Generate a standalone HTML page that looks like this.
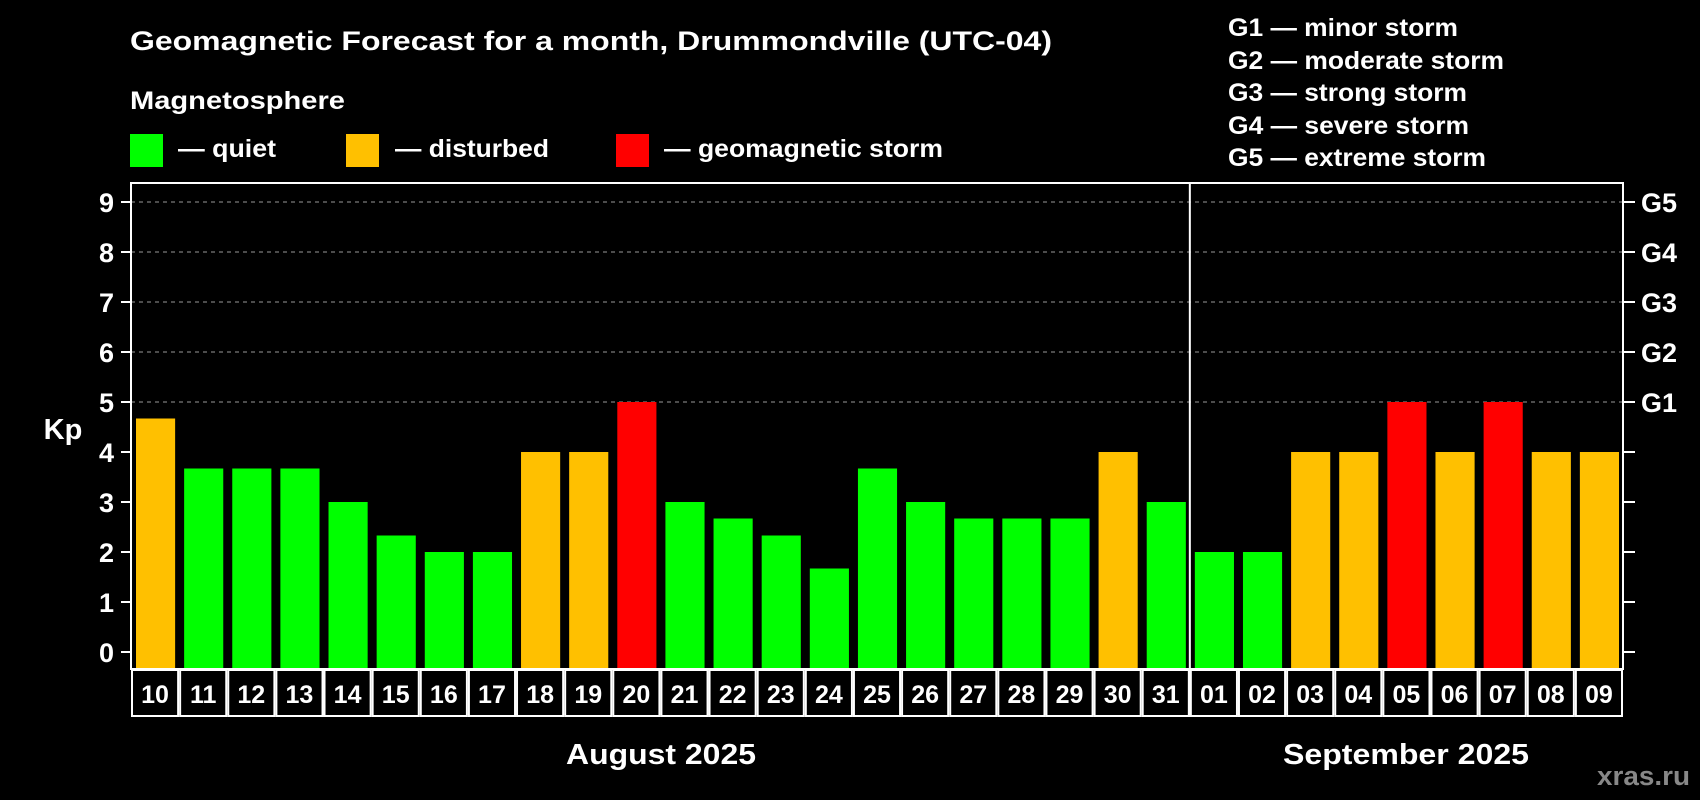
<!DOCTYPE html>
<html><head><meta charset="utf-8"><style>
html,body{margin:0;padding:0;background:#000;}
svg{display:block;font-family:"Liberation Sans",Arial,sans-serif;font-weight:bold;}
</style></head><body>
<svg id="chart" width="1700" height="800" viewBox="0 0 1700 800">
<rect width="1700" height="800" fill="#000"/>
<text x="130" y="50" fill="#fff" font-size="27" textLength="922" lengthAdjust="spacingAndGlyphs">Geomagnetic Forecast for a month, Drummondville (UTC-04)</text>
<text x="130" y="109" fill="#fff" font-size="25" textLength="215" lengthAdjust="spacingAndGlyphs">Magnetosphere</text>
<g><rect x="130" y="134" width="33" height="33" fill="#00ff00"/><text x="178" y="157" fill="#fff" font-size="25" textLength="98" lengthAdjust="spacingAndGlyphs">— quiet</text></g>
<g><rect x="346" y="134" width="33" height="33" fill="#ffc000"/><text x="395" y="157" fill="#fff" font-size="25" textLength="154" lengthAdjust="spacingAndGlyphs">— disturbed</text></g>
<g><rect x="616" y="134" width="33" height="33" fill="#ff0000"/><text x="664" y="157" fill="#fff" font-size="25" textLength="279" lengthAdjust="spacingAndGlyphs">— geomagnetic storm</text></g>
<g font-size="25" fill="#fff">
<text x="1228" y="36" textLength="230" lengthAdjust="spacingAndGlyphs">G1 — minor storm</text>
<text x="1228" y="69" textLength="276" lengthAdjust="spacingAndGlyphs">G2 — moderate storm</text>
<text x="1228" y="101" textLength="239" lengthAdjust="spacingAndGlyphs">G3 — strong storm</text>
<text x="1228" y="134" textLength="241" lengthAdjust="spacingAndGlyphs">G4 — severe storm</text>
<text x="1228" y="166" textLength="258" lengthAdjust="spacingAndGlyphs">G5 — extreme storm</text>
</g>
<text x="63" y="439" fill="#fff" font-size="29" text-anchor="middle">Kp</text>
<g id="grid"></g><g id="bars"></g><g id="axes"></g>
<text x="661" y="764" fill="#fff" font-size="29" text-anchor="middle" textLength="190" lengthAdjust="spacingAndGlyphs">August 2025</text>
<text x="1406" y="764" fill="#fff" font-size="29" text-anchor="middle" textLength="246" lengthAdjust="spacingAndGlyphs">September 2025</text>
<text x="1690" y="785" fill="#888" font-size="27" text-anchor="end" textLength="93" lengthAdjust="spacingAndGlyphs">xras.ru</text>
</svg>
<script>
const days = ["10","11","12","13","14","15","16","17","18","19","20","21","22","23","24","25","26","27","28","29","30","31","01","02","03","04","05","06","07","08","09"];
const kpValues = [4.67,3.67,3.67,3.67,3,2.33,2,2,4,4,5,3,2.67,2.33,1.67,3.67,3,2.67,2.67,2.67,4,3,2,2,4,4,5,4,5,4,4];
const yTicks = [0,1,2,3,4,5,6,7,8,9];
const gLabels = ["G1","G2","G3","G4","G5"];
const gLevels = [5,6,7,8,9];
const monthBreakIndex = 22;

const NS="http://www.w3.org/2000/svg";
const L=131, R=1623, T=183, B=669, Y0=652, UNIT=50;
const slot=(R-L)/days.length;
const y=v=>Y0-v*UNIT;
const x=i=>L+i*slot;
function mk(tag,attrs,parent){const e=document.createElementNS(NS,tag);for(const k in attrs)e.setAttribute(k,attrs[k]);parent.appendChild(e);return e;}
const grid=document.getElementById('grid'), bars=document.getElementById('bars'), axes=document.getElementById('axes');
gLevels.forEach((lv,i)=>{
  const g=mk('line',{x1:L,x2:R,y1:y(lv),y2:y(lv),stroke:'#999','stroke-dasharray':'4 4','stroke-width':1},grid);
  
  
  const t=mk('text',{x:R+18,y:y(lv)+10,fill:'#fff','font-size':27},axes);t.textContent=gLabels[i];
  
  
});
const col=v=>v>=5?'#ff0000':(v>=4?'#ffc000':'#00ff00');
kpValues.forEach((v,i)=>{
  const r=mk('rect',{x:x(i)+5,width:slot-9,y:y(v),height:B-y(v),fill:col(v)},bars);
  
  
  const c=mk('rect',{x:x(i)+1,y:B+1,width:slot-2,height:46,fill:'none',stroke:'#fff','stroke-width':2},axes);
  
  
  const t=mk('text',{x:x(i)+slot/2,y:B+34,fill:'#fff','font-size':25,'text-anchor':'middle'},axes);t.textContent=days[i];
  
  
});
const f=mk('rect',{x:L,y:T,width:R-L,height:B-T,fill:'none',stroke:'#fff','stroke-width':2},axes);


const sep=mk('line',{x1:x(monthBreakIndex),x2:x(monthBreakIndex),y1:T,y2:B+48,stroke:'#fff','stroke-width':2},axes);


yTicks.forEach(v=>{
  mk('line',{x1:L-10,x2:L,y1:y(v),y2:y(v),stroke:'#fff','stroke-width':2},axes);
  mk('line',{x1:R,x2:R+12,y1:y(v),y2:y(v),stroke:'#fff','stroke-width':2},axes);
  const t=mk('text',{x:L-17,y:y(v)+10,fill:'#fff','font-size':27,'text-anchor':'end'},axes);t.textContent=v;
  
  
});
</script>
</body></html>
